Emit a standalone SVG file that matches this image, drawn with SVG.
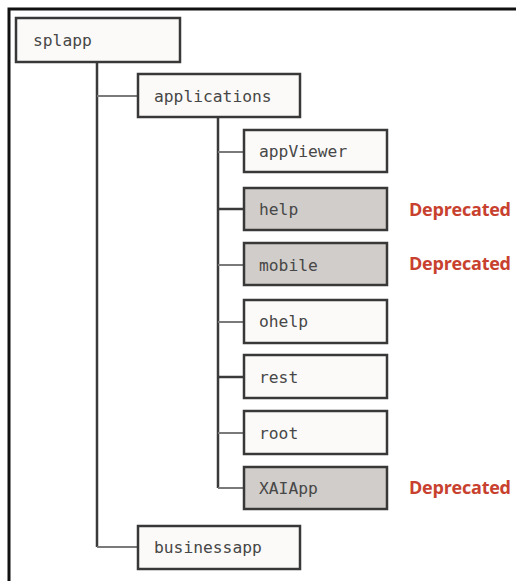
<svg xmlns="http://www.w3.org/2000/svg" width="516" height="581" viewBox="0 0 516 581">
<style>
.box{fill:#fbfaf8;stroke:#383838;stroke-width:2.5}
.dep{fill:#d1cdca;stroke:#383838;stroke-width:2.5}
.lbl{font-family:"DejaVu Sans Mono","Liberation Mono",monospace;font-size:16.3px;fill:#474747}
.red{font-family:"Open Sans","Liberation Sans",sans-serif;font-weight:bold;font-size:18px;fill:#c8412e}
.v{stroke:#3a3a3a;stroke-width:2.5;fill:none}
.h{stroke:#7a7a7a;stroke-width:2;fill:none}
</style>
<rect x="0" y="0" width="516" height="581" fill="#ffffff"/>
<path d="M9 581 V9 H516" fill="none" stroke="#111" stroke-width="3"/>
<g id="connectors">
<path class="v" d="M97 62 V547"/>
<path class="h" d="M97 96 H138"/>
<path class="h" d="M97 547 H138"/>
<path class="v" d="M218 117 V488"/>
<path class="h" d="M218 152 H244"/>
<path class="v" d="M218 209 H244"/>
<path class="h" d="M218 265 H244"/>
<path class="h" d="M218 322 H244"/>
<path class="v" d="M218 377 H244"/>
<path class="h" d="M218 433 H244"/>
<path class="h" d="M218 488 H244"/>
</g>
<g id="splapp"><rect class="box" x="16" y="18" width="164" height="44"/><text class="lbl" x="33" y="46">splapp</text></g>
<g id="applications"><rect class="box" x="138" y="74" width="162" height="43"/><text class="lbl" x="154" y="102">applications</text></g>
<g id="appViewer"><rect class="box" x="244" y="130" width="143" height="42"/><text class="lbl" x="259" y="157">appViewer</text></g>
<g id="help"><rect class="dep" x="244" y="188" width="143" height="42"/><text class="lbl" x="259" y="215">help</text><text class="red" x="409" y="216" textLength="102">Deprecated</text></g>
<g id="mobile"><rect class="dep" x="244" y="243" width="143" height="42"/><text class="lbl" x="259" y="271">mobile</text><text class="red" x="409" y="270" textLength="102">Deprecated</text></g>
<g id="ohelp"><rect class="box" x="244" y="300" width="143" height="43"/><text class="lbl" x="259" y="327">ohelp</text></g>
<g id="rest"><rect class="box" x="244" y="355" width="143" height="43"/><text class="lbl" x="259" y="383">rest</text></g>
<g id="root"><rect class="box" x="244" y="411" width="143" height="43"/><text class="lbl" x="259" y="439">root</text></g>
<g id="XAIApp"><rect class="dep" x="244" y="467" width="143" height="42"/><text class="lbl" x="259" y="494">XAIApp</text><text class="red" x="409" y="494" textLength="102">Deprecated</text></g>
<g id="businessapp"><rect class="box" x="138" y="526" width="162" height="43"/><text class="lbl" x="154" y="553">businessapp</text></g>
</svg>
